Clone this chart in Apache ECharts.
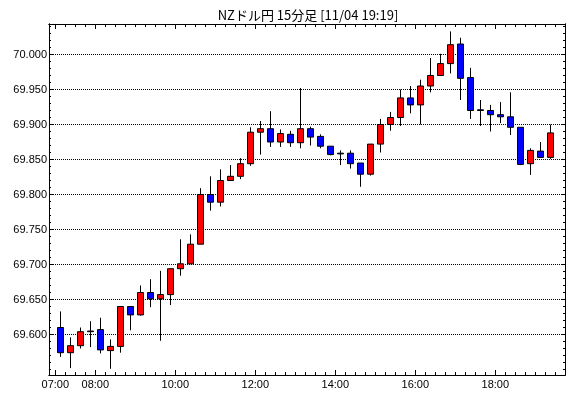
<!DOCTYPE html>
<html>
<head>
<meta charset="utf-8">
<script src="https://cdn.jsdelivr.net/npm/echarts@6/dist/echarts.min.js"></script>
<style>
html, body { margin: 0; padding: 0; background: #fff; }
#chart { width: 570px; height: 398px; }
</style>
</head>
<body>
<div id="chart"></div>
<script>
// 15分足 07:00 - 19:15
var times = ['07:00','07:15','07:30','07:45','08:00','08:15','08:30','08:45','09:00','09:15',
             '09:30','09:45','10:00','10:15','10:30','10:45','11:00','11:15','11:30','11:45',
             '12:00','12:15','12:30','12:45','13:00','13:15','13:30','13:45','14:00','14:15',
             '14:30','14:45','15:00','15:15','15:30','15:45','16:00','16:15','16:30','16:45',
             '17:00','17:15','17:30','17:45','18:00','18:15','18:30','18:45','19:00','19:15'];
var opens  = [69.610,69.574,69.584,69.604,69.607,69.577,69.583,69.640,69.628,69.660,
              69.651,69.657,69.694,69.701,69.729,69.800,69.789,69.820,69.826,69.844,
              69.889,69.894,69.875,69.886,69.874,69.894,69.883,69.869,69.859,69.859,
              69.845,69.829,69.872,69.900,69.910,69.938,69.928,69.955,69.970,69.987,
              70.015,69.967,69.921,69.920,69.914,69.911,69.896,69.844,69.862,69.853];
var closes = [69.574,69.584,69.604,69.605,69.578,69.583,69.640,69.628,69.660,69.651,
              69.657,69.694,69.701,69.729,69.800,69.789,69.820,69.826,69.844,69.889,
              69.894,69.875,69.887,69.874,69.894,69.882,69.869,69.857,69.858,69.844,
              69.829,69.872,69.900,69.910,69.938,69.928,69.955,69.970,69.987,70.014,
              69.966,69.920,69.920,69.914,69.911,69.896,69.843,69.863,69.853,69.888];
var lows   = [69.568,69.552,69.580,69.582,69.573,69.551,69.574,69.606,69.627,69.639,
              69.591,69.642,69.684,69.701,69.729,69.777,69.783,69.820,69.822,69.841,
              69.857,69.868,69.868,69.868,69.866,69.870,69.866,69.856,69.842,69.837,
              69.811,69.827,69.860,69.891,69.898,69.916,69.900,69.946,69.970,69.973,
              69.935,69.908,69.898,69.890,69.902,69.885,69.842,69.828,69.853,69.851];
var highs  = [69.633,69.596,69.610,69.619,69.624,69.593,69.640,69.640,69.670,69.679,
              69.691,69.694,69.736,69.743,69.809,69.826,69.836,69.842,69.852,69.896,
              69.905,69.919,69.893,69.891,69.952,69.897,69.886,69.869,69.863,69.863,
              69.845,69.872,69.908,69.918,69.950,69.955,69.964,69.995,70.001,70.033,
              70.024,69.981,69.935,69.928,69.932,69.946,69.896,69.866,69.875,69.900];

var yTicks = [69.600, 69.650, 69.700, 69.750, 69.800, 69.850, 69.900, 69.950, 70.000];
var xLabels = ['07:00','08:00','10:00','12:00','14:00','16:00','18:00'];
var title = 'NZドル円 15分足 [11/04 19:19]';

function toMin(s) {
    var p = s.split(':');
    return +p[0] * 60 + +p[1];
}
function fmtTime(v) {
    var h = Math.floor(v / 60), m = Math.round(v % 60);
    return (h < 10 ? '0' : '') + h + ':' + (m < 10 ? '0' : '') + m;
}

// 15分スロットの中央にローソク足を置く
var rows = times.map(function(t, i) {
    return [toMin(t) + 7.5, opens[i], closes[i], lows[i], highs[i]];
});
var xMajor = xLabels.map(toMin);
var xMinor = times.map(toMin).concat([toMin('19:30')]);
var yMinor = [];
for (var k = 6955; k <= 7004; k++) yMinor.push(k / 100);

var xMin = 410.5, xMax = 1184.5;
var yMax = 70 + 30.5 / 700, yMin = 70 - 320.5 / 700;

var black = { color: '#000', width: 1 };
var font = { color: '#000', fontFamily: 'Liberation Sans', fontSize: 11 };

function xAxis(pos, ticks, len, labels) {
    return {
        type: 'value', min: xMin, max: xMax, position: pos,
        axisLine: { show: true, onZero: false, lineStyle: black },
        axisTick: { show: true, inside: true, length: len, customValues: ticks, lineStyle: black },
        axisLabel: labels ? Object.assign({ customValues: ticks, formatter: fmtTime, margin: 4 }, font) : { show: false },
        splitLine: { show: false }
    };
}
function yAxis(pos, ticks, len, labels) {
    return {
        type: 'value', min: yMin, max: yMax, position: pos,
        axisLine: { show: true, onZero: false, lineStyle: black },
        axisTick: { show: true, inside: true, length: len, customValues: ticks, lineStyle: black },
        axisLabel: labels ? Object.assign({ customValues: ticks, formatter: function(v) { return v.toFixed(3); }, margin: 2 }, font) : { show: false },
        splitLine: { show: false }
    };
}

var chart = echarts.init(document.getElementById('chart'), null, { renderer: 'canvas' });
chart.setOption({
    animation: false,
    backgroundColor: '#fff',
    title: {
        text: title, left: 303, top: 4, textAlign: 'center',
        textStyle: { fontFamily: 'Noto Sans CJK JP', fontSize: 13, fontWeight: 'normal', color: '#000' }
    },
    grid: { left: 49, right: 5, top: 24, bottom: 23, containLabel: false, outerBoundsMode: 'none' },
    xAxis: [
        xAxis('bottom', xMajor, 5, true),
        xAxis('bottom', xMinor, 3, false),
        xAxis('top', xMajor, 5, false),
        xAxis('top', xMinor, 3, false)
    ],
    yAxis: [
        yAxis('left', yTicks, 4, true),
        yAxis('left', yMinor, 2, false),
        yAxis('right', yTicks, 4, false),
        yAxis('right', yMinor, 2, false)
    ],
    series: [{
        type: 'candlestick',
        xAxisIndex: 0, yAxisIndex: 0,
        data: rows,
        encode: { x: 0, y: [1, 2, 3, 4] },
        barWidth: 6,
        z: 3,
        itemStyle: {
            color: '#ff0000', color0: '#0000ff',
            borderColor: '#000', borderColor0: '#000', borderColorDoji: '#000',
            borderWidth: 1
        },
        markLine: {
            silent: true, symbol: 'none', z: 1,
            label: { show: false },
            lineStyle: { color: '#000', width: 1, type: [1, 1] },
            data: yTicks.map(function(v) { return { yAxis: v }; })
        }
    }]
});
</script>
</body>
</html>
